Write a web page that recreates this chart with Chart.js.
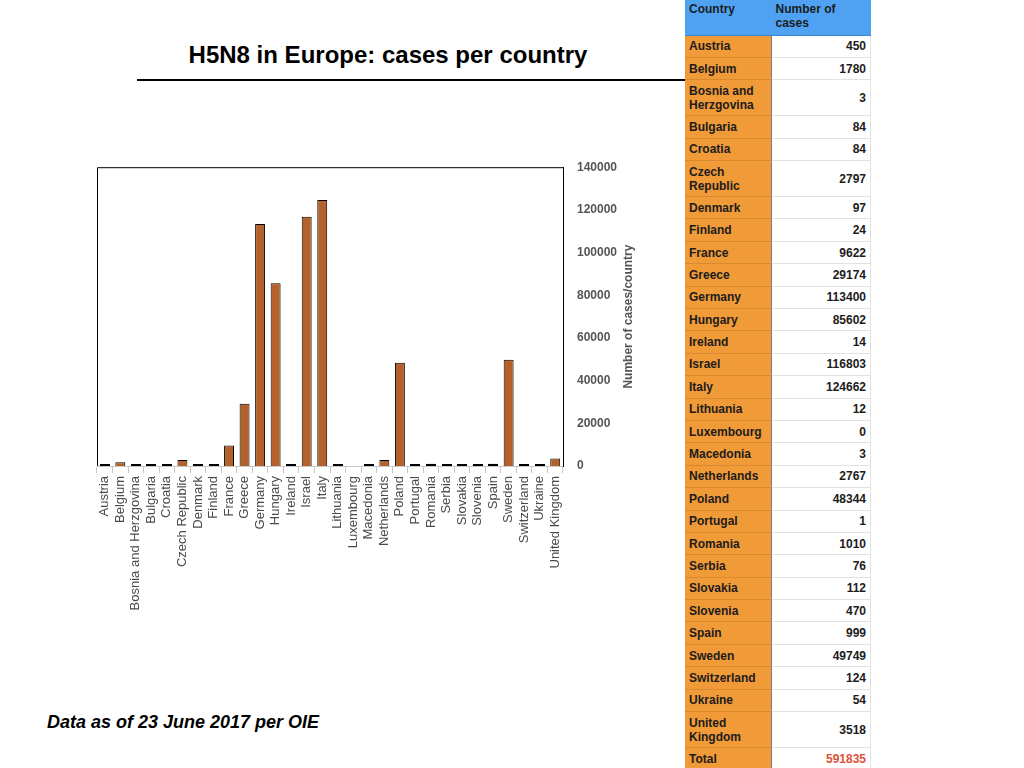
<!DOCTYPE html>
<html>
<head>
<meta charset="utf-8">
<script src="https://cdn.jsdelivr.net/npm/chart.js@4.4.0/dist/chart.umd.min.js"></script>
<style>
  html, body { margin:0; padding:0; background:#fff; width:1024px; height:768px; overflow:hidden; font-family:"Liberation Sans", Arial, sans-serif; }
  #title { position:absolute; left:137px; width:502px; top:40px; text-align:center; font-weight:bold; font-size:24px; color:#000; line-height:30px; }
  #rule { position:absolute; left:137px; top:79px; width:548px; height:2px; background:#000; }
  #foot { position:absolute; left:47px; top:710px; font-weight:bold; font-style:italic; font-size:18px; color:#000; line-height:24px; }
  #wrap { position:absolute; left:90px; top:146px; width:560px; height:484px; }
  #chart { display:block; }
  #tbl { position:absolute; left:685px; top:0; border-collapse:collapse; table-layout:fixed; font-size:12px; font-weight:bold; color:#1c1c1c; }
  #tbl td { padding:0 4px; line-height:14px; overflow:hidden; }
  #tbl td.c { width:78px; background:#f09a38; border-bottom:1px solid #d98a30; border-right:1px solid #6f7f90; }
  #tbl td.v { width:90px; background:#fff; text-align:right; border-bottom:1px solid #e2e2e2; border-right:1px solid #e2e2e2; }
  #tbl tr.h td { background:#4fa2f2; vertical-align:top; padding-top:2px; border-bottom:1px solid #3f86cc; border-right:none; text-align:left; }
  #tbl td.tot { color:#e0513a; }
</style>
</head>
<body>
<div id="title">H5N8 in Europe: cases per country</div>
<div id="rule"></div>
<div id="wrap"><canvas id="chart" width="560" height="484" style="width:560px;height:484px"></canvas></div>
<table id="tbl"></table>
<div id="foot">Data as of 23 June 2017 per OIE</div>
<script>
const countries = ["Austria","Belgium","Bosnia and Herzgovina","Bulgaria","Croatia","Czech Republic","Denmark","Finland","France","Greece","Germany","Hungary","Ireland","Israel","Italy","Lithuania","Luxembourg","Macedonia","Netherlands","Poland","Portugal","Romania","Serbia","Slovakia","Slovenia","Spain","Sweden","Switzerland","Ukraine","United Kingdom"];
const cases = [450,1780,3,84,84,2797,97,24,9622,29174,113400,85602,14,116803,124662,12,0,3,2767,48344,1,1010,76,112,470,999,49749,124,54,3518];
const totalCases = 591835;
const yTicks = [0,20000,40000,60000,80000,100000,120000,140000];
const yTitle = "Number of cases/country";
const headers = ["Country","Number of cases"];

// table
const tbl = document.getElementById('tbl');
const twoLine = ["Bosnia and Herzgovina","Czech Republic","United Kingdom"];
let html = '<tr class="h" style="height:35px"><td class="c">'+headers[0]+'</td><td class="v">'+headers[1]+'</td></tr>';
countries.forEach((c,i)=>{
  const h = twoLine.includes(c) ? 36 : 22.4;
  html += '<tr style="height:'+h+'px"><td class="c">'+c+'</td><td class="v">'+cases[i]+'</td></tr>';
});
html += '<tr style="height:22px"><td class="c">Total</td><td class="v tot">'+totalCases+'</td></tr>';
tbl.innerHTML = html;

const framePlugin = {
  id:'frame',
  afterDatasetsDraw(chart){
    // thin outline for very small (non-zero) bars, as in the reference
    const {ctx} = chart;
    const meta = chart.getDatasetMeta(0);
    ctx.save();
    ctx.fillStyle = '#000';
    meta.data.forEach((bar,i)=>{
      const v = chart.data.datasets[0].data[i];
      if (v > 0 && bar.base - bar.y < 2.5) {
        ctx.fillRect(Math.round(bar.x - bar.width/2), Math.round(bar.base) - 2, Math.round(bar.width), 2);
      }
    });
    ctx.restore();
  },
  afterDraw(chart){
    const {ctx, chartArea:a} = chart;
    ctx.save();
    ctx.strokeStyle = '#000';
    ctx.lineWidth = 1;
    ctx.beginPath();
    ctx.moveTo(a.left+0.5, a.bottom);
    ctx.lineTo(a.left+0.5, a.top+0.5);
    ctx.lineTo(a.right, a.top+0.5);
    ctx.stroke();
    ctx.translate(a.right+66, (a.top+a.bottom)/2);
    ctx.rotate(-Math.PI/2);
    ctx.fillStyle = '#555';
    ctx.font = 'bold 12px "Liberation Sans", Arial, sans-serif';
    ctx.textAlign = 'center';
    ctx.textBaseline = 'middle';
    ctx.fillText(yTitle, 0, 0);
    ctx.restore();
  }
};

new Chart(document.getElementById('chart'), {
  type:'bar',
  data:{
    labels: countries,
    datasets:[{
      data: cases,
      backgroundColor:'#b5612b',
      borderColor:'#000',
      borderWidth:1,
      barPercentage:0.64,
      categoryPercentage:1
    }]
  },
  options:{
    responsive:false,
    maintainAspectRatio:false,
    animation:false,
    devicePixelRatio:1,
    layout:{ padding:{ left:7, top:13, right:0, bottom:0 } },
    plugins:{ legend:{display:false}, tooltip:{enabled:false}, title:{display:false} },
    scales:{
      x:{
        grid:{ drawOnChartArea:false, drawTicks:true, tickLength:7, color:'#c8c8c8', offset:true },
        border:{ color:'#c8c8c8', width:1 },
        ticks:{ maxRotation:90, minRotation:90, autoSkip:false, color:'#4a4a4a', padding:3,
                font:{ family:'"Liberation Sans", Arial, sans-serif', size:13 } },
        afterFit(s){ s.height = 164; }
      },
      y:{
        position:'right',
        min:0, max:140000,
        afterBuildTicks(s){ s.ticks = yTicks.map(v=>({value:v})); },
        grid:{ display:false, drawTicks:false },
        border:{ display:true, color:'#000', width:1 },
        ticks:{ color:'#555', padding:14, callback:(v)=>String(v),
                font:{ family:'"Liberation Sans", Arial, sans-serif', size:12, weight:'bold' } },
        afterFit(s){ s.width = 87; }
      }
    }
  },
  plugins:[framePlugin]
});
</script>
</body>
</html>
